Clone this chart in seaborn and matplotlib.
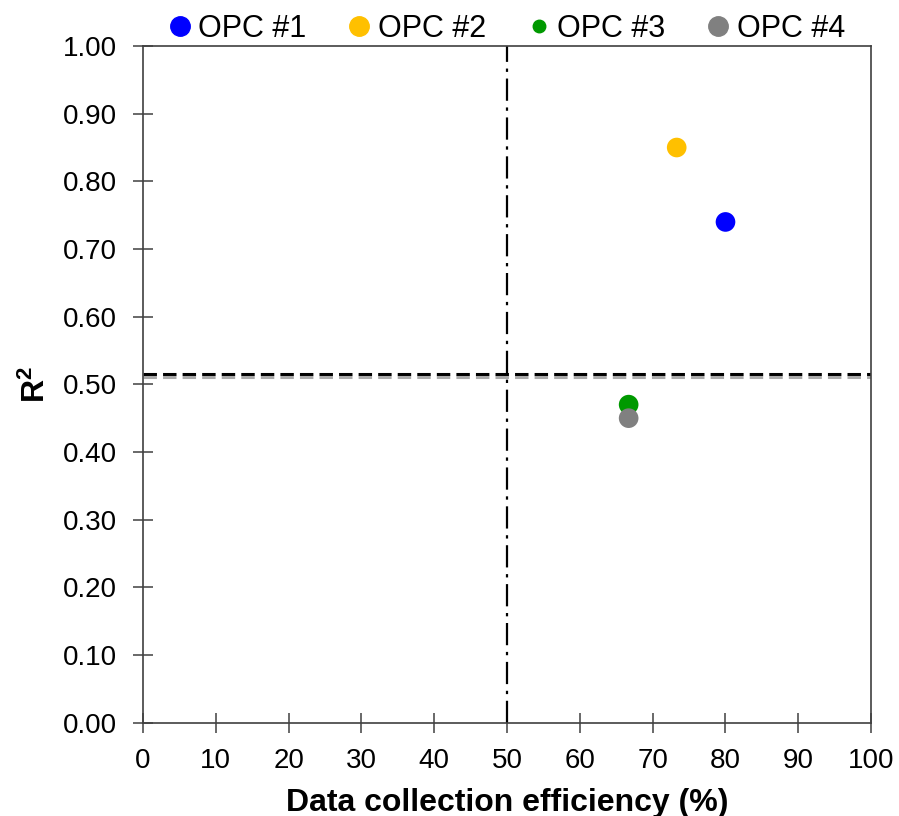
import pandas as pd
import matplotlib.pyplot as plt
import seaborn as sns

# values
labels = ["OPC #1", "OPC #2", "OPC #3", "OPC #4"]
efficiency = [80.0, 73.3, 66.7, 66.7]
r2 = [0.74, 0.85, 0.47, 0.45]
colors = ["#0000FF", "#FFC000", "#009900", "#808080"]
r2_threshold = 0.516
eff_threshold = 50

df = pd.DataFrame({"label": labels, "eff": efficiency, "r2": r2})

sns.set_style("ticks")
plt.rcParams["font.family"] = ["Liberation Sans", "DejaVu Sans"]
plt.rcParams["mathtext.fontset"] = "custom"
plt.rcParams["mathtext.bf"] = "Liberation Sans:bold"
plt.rcParams["mathtext.rm"] = "Liberation Sans"
plt.rcParams["text.color"] = "black"
plt.rcParams["axes.labelcolor"] = "black"

fig = plt.figure(figsize=(8.99, 8.16), dpi=100)
ax = fig.add_axes([0.159, 0.1144, 0.81, 0.8292])

# threshold lines
ax.axhline(r2_threshold, color="black", linestyle=(0, (4.4, 2)), linewidth=2.2, zorder=1)
ax.axhline(r2_threshold - 0.005, color="#aaaaaa", linestyle=(0, (4.4, 2)), linewidth=2.2, zorder=1)
ax.axvline(eff_threshold, color="black", linestyle=(0, (10, 3, 1.5, 3)), linewidth=1.6, zorder=1)

sns.scatterplot(data=df, x="eff", y="r2", hue="label", palette=colors,
                s=200, edgecolor="none", legend=False, ax=ax, zorder=3)

ax.set_xlim(0, 100)
ax.set_ylim(0, 1.0)
ax.set_xticks(range(0, 101, 10))
ax.set_yticks([i / 10 for i in range(11)])
ax.set_yticklabels([f"{i / 10:.2f}" for i in range(11)])
ax.tick_params(direction="inout", length=14, width=1.1, labelsize=20,
               color="#404040", labelcolor="black")
ax.tick_params(axis="x", pad=11)
ax.tick_params(axis="y", pad=11.5)
for sp in ax.spines.values():
    sp.set_linewidth(1.2)
    sp.set_color("#404040")

ax.set_xlabel("Data collection efficiency (%)", fontsize=23, fontweight="bold", labelpad=10)
ax.set_ylabel(r"$\mathbf{R^2}$", fontsize=23, labelpad=8)

# legend above the plot
sizes = [14, 14, 9, 14]
handles = [plt.Line2D([], [], marker="o", linestyle="none", color=c, markersize=m)
           for c, m in zip(colors, sizes)]
fig.legend(handles, labels, loc="center", bbox_to_anchor=(0.564, 0.965), ncol=4,
           frameon=False, fontsize=22, handlelength=0.7, handletextpad=0.25,
           columnspacing=1.38, borderpad=0)

plt.savefig("out.png", dpi=100)
plt.close()
